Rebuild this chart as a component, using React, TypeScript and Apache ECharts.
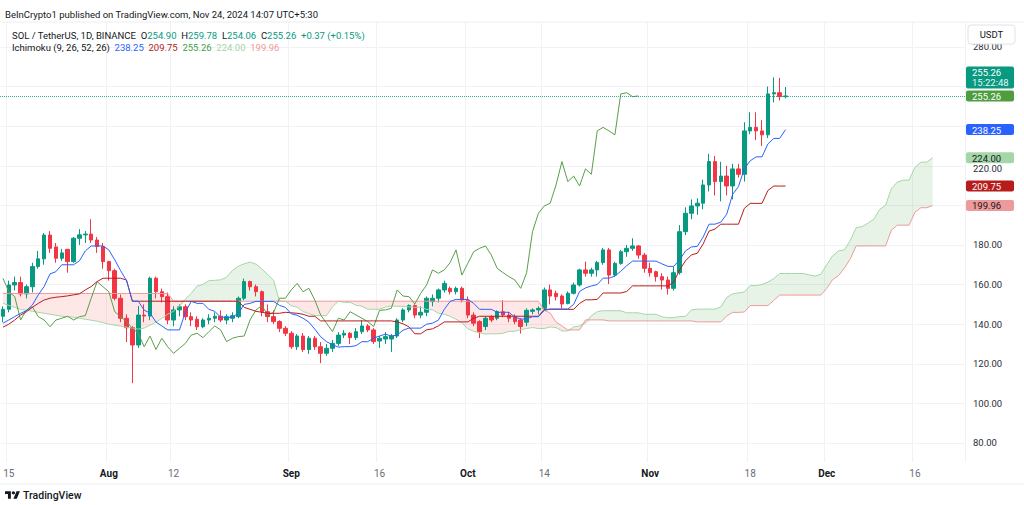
import React, { useEffect, useRef } from 'react';
import * as echarts from 'echarts';

const FONT = 'Roboto, "Liberation Sans", sans-serif';

// ---- categories (daily, Jul 14 2024 .. Dec 24 2024) ----
const FIRST_DAY = Date.UTC(2024, 6, 14);
const DAY_COUNT = 164;
const dates: string[] = [];
for (let i = 0; i < DAY_COUNT; i++) dates.push(new Date(FIRST_DAY + i * 86400000).toISOString().slice(0, 10));

const tickDates = ['2024-07-15', '2024-08-01', '2024-08-12', '2024-09-01', '2024-09-16', '2024-10-01', '2024-10-14', '2024-11-01', '2024-11-18', '2024-12-01', '2024-12-16'];
const tickLabels = ['15', 'Aug', '12', 'Sep', '16', 'Oct', '14', 'Nov', '18', 'Dec', '16'];
const priceTicks = [80, 100, 120, 140, 160, 180, 200, 220, 240, 260, 280];
// axis labels drawn by the axis; 200/240/260 sit behind price-scale markers, 220 is drawn just under its marker
const priceLabels = [80, 100, 120, 140, 160, 180, 280];
const partlyHiddenLabel = 220;

// ---- SOL/USDT daily candles, Jul 14 .. Nov 24 ----
const open = [
  144.0,
  147.5, 159.8, 161.0, 155.3, 158.9, 169.1, 173.0, 185.0, 179.0, 173.3,
  177.8, 171.6, 183.4, 185.1, 185.5, 182.5, 179.2,
  171.6, 167.0, 153.1, 143.0, 138.2, 129.5, 144.6, 144.1, 163.2, 156.4,
  153.9, 142.1, 147.2, 148.8, 143.8, 142.5, 138.7, 142.1, 143.0, 144.0,
  142.1, 143.0, 143.8, 153.1, 161.5, 158.9, 156.4, 146.3, 143.8, 141.3, 137.9,
  135.4, 128.6, 134.0, 127.2, 132.9, 128.6, 125.3, 127.8, 130.3, 134.5,
  135.4, 133.2, 136.2, 139.1, 137.1, 131.5, 132.5, 132.5, 134.0, 142.1,
  147.2, 149.4, 144.6, 146.0, 151.4, 153.1, 157.3, 158.1, 156.4, 158.1,
  152.2, 144.6, 141.3, 138.8, 143.8, 143.0, 146.3, 144.6, 143.8, 142.1,
  141.0, 146.5, 147.2, 148.0, 157.3, 155.6, 154.2, 150.5, 155.6, 159.8,
  167.4, 165.7, 167.4, 171.1, 177.5, 164.8, 170.7, 176.6, 178.3, 179.5, 174.9,
  168.2, 166.5, 164.0, 162.3, 158.1, 166.0, 186.7, 196.0, 199.7, 201.1,
  210.3, 222.1, 212.0, 214.8, 209.8, 218.4, 215.7, 237.6, 239.4, 237.6,
  235.6, 256.3, 256.9, 254.9,
];
const close = [
  147.5,
  159.8, 161.0, 155.3, 158.9, 169.1, 173.0, 185.0, 178.3, 173.3, 176.0,
  171.6, 183.4, 185.1, 185.5, 182.5, 179.2, 171.6,
  167.0, 153.1, 143.0, 138.2, 129.5, 144.6, 144.1, 163.2, 156.4, 153.9,
  142.1, 147.2, 148.8, 143.8, 142.1, 138.7, 142.1, 143.0, 144.0, 142.1,
  143.8, 144.3, 153.1, 161.5, 158.9, 156.4, 146.3, 143.8, 141.3, 137.9, 135.4,
  128.6, 134.0, 127.2, 132.9, 128.6, 125.3, 127.8, 130.3, 134.5, 135.4,
  133.2, 136.2, 139.1, 137.1, 131.2, 132.9, 133.7, 134.0, 142.1, 147.2,
  149.4, 144.6, 146.0, 153.1, 153.1, 157.3, 160.6, 156.4, 158.1, 152.2,
  144.6, 140.5, 136.2, 143.0, 142.1, 146.3, 144.6, 143.0, 141.3, 138.8,
  147.0, 147.2, 148.0, 157.3, 154.2, 153.9, 150.2, 155.6, 159.8, 167.4,
  165.7, 167.4, 171.1, 177.5, 164.8, 170.7, 176.6, 178.3, 179.5, 174.9, 168.2,
  166.0, 164.0, 162.3, 158.1, 166.0, 186.7, 196.0, 199.7, 201.1, 210.3,
  222.1, 212.0, 214.8, 209.8, 218.4, 215.7, 237.6, 239.4, 237.6, 235.6,
  256.3, 256.9, 254.9, 255.26,
];
const high = [
  149,
  162, 164, 164, 160, 171, 177, 186, 187, 181, 178,
  178, 184, 188, 187, 193, 184, 181,
  172, 168, 155, 145, 139, 149.2, 150, 164, 164, 158,
  156, 149, 150, 150, 146, 144, 143, 145, 146, 147,
  145, 146, 154, 163, 162, 160, 157, 150, 147, 142, 139,
  136.5, 135, 135.5, 134, 134, 131, 130, 132, 136, 137,
  136, 138, 142, 140, 138, 134, 136, 135, 143, 148,
  150, 150, 149, 154, 155, 158, 162, 159, 159, 159,
  154, 146, 142, 144, 144.5, 147, 152.2, 146, 145, 143,
  148, 148, 149, 158.5, 160, 157, 155, 156.5, 161, 168,
  171.6, 168.5, 172, 178.5, 178.5, 171.5, 177.5, 180, 183.4, 180, 176,
  171, 167, 165.7, 164, 169, 190, 199, 203, 203.6, 213,
  226, 225, 222, 220, 221, 221, 242, 247, 247, 243,
  260, 264.6, 264.4, 259.78,
];
const low = [
  141,
  146, 157, 154, 153, 156, 168, 170, 176, 171, 172,
  166, 171, 180, 181, 181, 176, 168,
  162, 152, 141, 131, 110.2, 128, 141, 142, 153, 151,
  140, 139, 144, 142, 139, 137, 138, 140, 141, 141,
  140, 141, 143, 152, 157, 154, 144, 141, 140, 136, 134,
  127.5, 127, 126, 125, 127, 120.3, 124, 126, 129, 133,
  130, 132, 135, 136, 130, 128, 130, 126, 133, 141,
  146, 143, 143, 144, 149, 151, 156, 155, 155, 151,
  143, 139, 133, 137, 141, 142, 143.5, 141, 140, 135.3,
  139, 145, 145, 147, 150, 152, 148, 150, 155, 159,
  164, 164, 164, 170, 160.3, 164, 170, 174, 177, 173, 166,
  164, 161.5, 157.5, 155, 157, 165, 185, 193, 195.2, 198,
  207, 205, 202, 205, 203, 214, 212, 236, 233, 230,
  234, 252, 253, 254.06,
];

// ---- Ichimoku (9, 26, 52, 26) lines ----
const conversionLine = [
  140.5, 142.1, 143.8, 145.5, 146.8, 149.7, 154.8, 159.0, 165.4, 166.5,
  170, 170, 170, 172, 177, 179.5, 179.5, 179.5, 177.5, 172.5,
  167, 162, 151.6, 151.6, 147.1, 145.6, 141.1, 139.1, 137.1, 137.1,
  137.1, 146, 151.5, 150.5, 150.5, 147.5, 146.5, 143.5, 143.5, 143.5,
  145.5, 150, 150.5, 151.5, 151.5, 151.5, 151.5, 149.5, 148.5, 145.25,
  144.5, 143, 141, 137.5, 133.65, 131.15, 129.65, 128.4, 128.65, 128.65,
  129.15, 131.15, 131.15, 133, 134, 135, 134, 134.5, 137, 138,
  138, 138, 140, 140.5, 142, 147.5, 151.5, 152.5, 152.5, 152.5,
  150.5, 147.5, 147.5, 147.5, 146, 146, 146, 143.5, 142.6, 142.6,
  143.75, 143.75, 146.9, 147.65, 147.65, 147.65, 147.65, 150, 156.5, 158.3,
  159.3, 160, 163.25, 163.25, 164.25, 166.75, 169.5, 171.85, 171.85, 171.85,
  171.85, 171.85, 170.45, 169.2, 169.2, 172.5, 177, 179, 179.3, 184,
  190.5, 190.5, 191.5, 195.5, 205.5, 209.5, 218.6, 222.5, 224.5, 224.5,
  231, 233.8, 233.8, 238.25,
];
const baseLine = [
  138.5, 140.0, 142.1, 144.6, 146.3, 148.5, 150.5, 152.2, 153.1, 153.6,
  153.9, 154.3, 154.8, 155.3, 157.3, 159.0, 161.5, 163.2, 163.2, 163.2,
  163.2, 162.3, 151.6, 151.6, 151.6, 151.6, 151.6, 151.6, 151.6, 151.6,
  151.6, 151.6, 151.6, 151.6, 151.6, 151.6, 151.6, 151.6, 151.6, 151.6,
  151.6, 148.5, 147.5, 146.5, 146.0, 145.5, 145.5, 145.5, 146.0, 145.75,
  145.5, 145.0, 144.0, 144.0, 141.65, 141.65, 141.65, 141.65, 141.65, 141.65,
  141.65, 141.65, 141.65, 141.65, 141.65, 141.65, 141.65, 141.15, 140.15, 138.65,
  135.15, 135.15, 137.15, 137.65, 139.15, 141.15, 141.15, 141.15, 141.15, 141.15,
  143, 144, 144, 144, 144, 144, 144, 144, 144, 144,
  144, 144, 147.5, 147.5, 147.5, 147.5, 147.5, 147.5, 150.5, 152.3,
  152.3, 152.5, 155.75, 155.75, 155.75, 155.75, 156.5, 159.35, 159.35, 159.35,
  159.35, 159.35, 159.35, 159.35, 161.2, 167.5, 172, 175, 175.8, 180.5,
  187, 188, 190.5, 190.5, 190.5, 190.5, 198.5, 201, 201, 201,
  207.5, 209.75, 209.75, 209.75,
];
const leadingSpanA = [
  150.5, 149.5, 148.5, 147.5, 147.0, 146.5, 146.0, 145.5, 145.0, 144.5,
  144.0, 143.8, 143.5, 143.0, 142.5, 142.0, 141.5, 140.8, 140.0, 139.5,
  139.0, 138.5, 138.0, 137.5, 138.0, 139.5, 141.05, 142.95, 145.05, 146.55,
  149.1, 152.65, 155.6, 159.25, 160.05, 161.95, 162.15, 162.4, 163.65, 167.15,
  169.25, 170.5, 171.35, 170.35, 167.85, 165.1, 162.15, 151.6, 151.6, 149.35,
  148.6, 146.35, 145.35, 144.35, 144.35, 144.35, 148.8, 151.55, 151.05, 151.05,
  149.55, 149.05, 147.55, 147.55, 147.55, 148.55, 149.25, 149.0, 149.0, 148.75,
  148.5, 148.5, 147.5, 147.25, 145.5, 145.0, 144.0, 142.5, 140.75, 137.65,
  136.4, 135.65, 135.0, 135.15, 135.15, 135.4, 136.4, 136.4, 137.3, 137.8,
  138.3, 137.8, 137.8, 138.6, 138.3, 136.6, 136.6, 138.6, 139.1, 140.6,
  144.3, 146.3, 146.8, 146.8, 146.8, 146.75, 145.75, 145.75, 145.75, 145.0,
  145.0, 145.0, 143.75, 143.3, 143.3, 143.9, 143.9, 147.2, 147.6, 147.6,
  147.6, 147.6, 148.75, 153.5, 155.3, 155.8, 156.25, 159.5, 159.5, 160.0,
  161.25, 163.0, 165.6, 165.6, 165.6, 165.6, 165.6, 164.9, 164.3, 165.2,
  170.0, 174.5, 177.0, 177.55, 182.25, 188.75, 189.25, 191.0, 193.0, 198.0,
  200.0, 208.55, 211.75, 212.75, 212.75, 219.25, 221.8, 221.8, 224.0,
];
const leadingSpanB = [
  155.5, 155.5, 155.5, 155.5, 155.5, 155.5, 155.5, 155.5, 155.5, 155.5,
  155.5, 155.5, 155.5, 155.5, 155.5, 155.5, 155.5, 155.5, 155.5, 155.5,
  155.5, 155.5, 155.5, 155.5, 155.5, 155.5, 155.5, 155.5, 155.5,
  151.6, 151.6, 151.6, 151.6, 151.6, 151.6, 151.6, 151.6, 151.6, 151.6,
  151.6, 151.6, 151.6, 151.6, 151.6, 151.6, 151.6, 151.6, 151.6, 151.6,
  151.6, 151.6, 151.6, 151.6, 151.6, 151.6, 151.6, 151.6, 151.6, 151.6,
  151.6, 151.6, 151.6, 151.6, 151.6, 151.6, 151.6, 151.6, 151.6, 151.6,
  151.6, 151.6, 151.6, 151.6, 151.6, 151.6, 151.6, 151.6, 151.6, 151.6,
  151.6, 151.6, 151.6, 151.6, 151.6, 151.6, 151.6, 151.6, 151.6, 151.6,
  151.6, 151.6, 151.6,
  147.1, 145.6, 141.1, 139.1, 137.1, 137.1, 137.1, 142.15, 142.15, 142.15, 142.15,
  141.65, 141.65, 141.65, 141.65, 141.65, 141.65, 141.65, 141.65, 141.65, 141.65,
  141.65, 141.65, 141.65, 141.65, 141.65,
  141.15, 141.15, 141.15, 141.15, 141.15,
  144.15, 145.95, 145.95, 146.15, 149.4, 149.4, 149.4, 149.4, 152.0,
  154.7, 154.7, 154.7, 154.7, 154.7, 154.7, 154.7, 154.7,
  158.0, 162.5, 164.5, 168.3, 173.0,
  179.5, 179.5, 179.5, 179.5, 179.5, 179.5,
  187.5, 190.0, 190.0, 190.0, 196.5, 198.8, 198.8, 199.96,
];
const LAG = 25; // lagging span plotted 25 bars back (displacement 26)
const laggingSpan = close.slice(LAG);

const UP = '#089981';
const DOWN = '#f23645';
const C_CONV = '#2962ff';
const C_BASE = '#b71c1c';
const C_LAG = '#5a9e4b';
const C_SA = '#a5d6a7';
const C_SB = '#ef9a9a';
const FS = 9.5;

const TV_LOGO = 'M14 22H7V11H0V4h14v18Z M28 22h-8l7.5-18h8L28 22Z M20 4a4 4 0 1 1 0 8a4 4 0 1 1 0-8Z';
let logoRegistered = false;

export default function App() {
  const ref = useRef<HTMLDivElement>(null);
  useEffect(() => {
    if (!ref.current) return;
    if (!logoRegistered) {
      echarts.graphic.registerShape('tvlogo', echarts.graphic.extendPath(TV_LOGO, {}) as any);
      logoRegistered = true;
    }
    const chart = echarts.init(ref.current, null, { renderer: 'svg' });
    const r2 = (v: number) => Math.round(v * 100) / 100;
    const cloudBase = leadingSpanA.map((a, i) => r2(Math.min(a, leadingSpanB[i])));
    const cloudUp = leadingSpanA.map((a, i) => r2(Math.max(a - leadingSpanB[i], 0)));
    const cloudDown = leadingSpanA.map((a, i) => r2(Math.max(leadingSpanB[i] - a, 0)));
    const candles = open.map((o, i) => [o, close[i], low[i], high[i]]);
    const isTick = (_: number, v: string) => tickDates.indexOf(v) >= 0;
    const lineSeries = (name: string, data: number[], color: string) => ({
      name, type: 'line', data, symbol: 'none', showSymbol: false, silent: true,
      lineStyle: { color, width: 1 }, z: 3,
    });

    chart.setOption({
      animation: false,
      backgroundColor: '#ffffff',
      textStyle: { fontFamily: FONT },
      grid: { left: 0, right: 59, top: 22, bottom: 43 },
      xAxis: {
        type: 'category', data: dates, boundaryGap: true,
        axisLine: { show: false }, axisTick: { show: false },
        axisLabel: {
          interval: isTick, margin: 6, fontSize: 10,
          formatter: (v: string) => {
            const t = tickLabels[tickDates.indexOf(v)];
            return /^\d+$/.test(t) ? `{d|${t}}` : `{m|${t}}`;
          },
          rich: {
            m: { color: '#131722', fontWeight: 'bold', fontSize: 10, fontFamily: FONT },
            d: { color: '#6a6d78', fontSize: 10, fontFamily: FONT },
          },
        },
        splitLine: { show: true, interval: isTick, lineStyle: { color: '#f0f2f6', width: 1 } },
      },
      yAxis: {
        type: 'value', position: 'right', min: 70.4, max: 292.6,
        axisLine: { show: false },
        axisTick: { show: false, customValues: priceTicks },
        axisLabel: { customValues: priceLabels, formatter: (v: number) => v.toFixed(2), color: '#2a2e39', fontSize: FS, margin: 8 },
        splitLine: { show: true, lineStyle: { color: '#f0f2f6', width: 1 } },
      },
      series: [
        { name: 'cloudBase', type: 'line', stack: 'cloud', data: cloudBase, symbol: 'none', silent: true, lineStyle: { opacity: 0 }, z: 1 },
        { name: 'cloudUp', type: 'line', stack: 'cloud', data: cloudUp, symbol: 'none', silent: true, lineStyle: { opacity: 0 }, areaStyle: { color: 'rgba(67,160,71,0.13)', opacity: 1 }, z: 1 },
        { name: 'cloudDown', type: 'line', stack: 'cloud', data: cloudDown, symbol: 'none', silent: true, lineStyle: { opacity: 0 }, areaStyle: { color: 'rgba(244,67,54,0.12)', opacity: 1 }, z: 1 },
        {
          name: 'SOLUSDT', type: 'candlestick', data: candles, barWidth: 4, z: 2,
          itemStyle: { color: UP, color0: DOWN, borderColor: UP, borderColor0: DOWN, borderWidth: 1 },
          markLine: {
            silent: true, symbol: ['none', 'none'], label: { show: false },
            lineStyle: { color: UP, type: 'dotted', width: 1, opacity: 0.8 },
            data: [{ yAxis: close[close.length - 1] }],
          },
        },
        lineSeries('Leading Span A', leadingSpanA, C_SA),
        lineSeries('Leading Span B', leadingSpanB, C_SB),
        lineSeries('Lagging Span', laggingSpan, C_LAG),
        lineSeries('Base Line', baseLine, C_BASE),
        lineSeries('Conversion Line', conversionLine, C_CONV),
      ],
    });

    const yPix = (v: number) => chart.convertToPixel({ yAxisIndex: 0 }, v) as number;
    const lastClose = close[close.length - 1];
    const boxes = [
      { v: conversionLine[conversionLine.length - 1], bg: C_CONV, fg: '#ffffff' },
      { v: leadingSpanA[leadingSpanA.length - 1], bg: C_SA, fg: '#131722' },
      { v: baseLine[baseLine.length - 1], bg: C_BASE, fg: '#ffffff' },
      { v: leadingSpanB[leadingSpanB.length - 1], bg: C_SB, fg: '#131722' },
      { v: lastClose, bg: '#4f9d3e', fg: '#ffffff' },
    ];
    const BX = 966, BW = 48, BH = 11;
    const elements: any[] = [];
    // 220.00 price label, sitting just below the Leading Span A marker
    elements.push({ type: 'text', z: 90, x: 973, y: yPix(partlyHiddenLabel) + 2.5, style: { text: partlyHiddenLabel.toFixed(2), fill: '#2a2e39', fontSize: FS, fontFamily: FONT, verticalAlign: 'middle', align: 'left' } });
    boxes.forEach((b) => {
      const yc = yPix(b.v);
      elements.push({ type: 'rect', z: 100, shape: { x: BX, y: yc - BH / 2, width: BW, height: BH, r: 2 }, style: { fill: b.bg } });
      elements.push({ type: 'text', z: 101, x: BX + 6, y: yc + 0.5, style: { text: b.v.toFixed(2), fill: b.fg, fontSize: FS, fontFamily: FONT, verticalAlign: 'middle', align: 'left' } });
    });
    const pc = yPix(lastClose) - 18.5;
    elements.push({ type: 'rect', z: 100, shape: { x: BX, y: pc - 11, width: BW, height: 22, r: 2 }, style: { fill: UP } });
    elements.push({ type: 'text', z: 101, x: BX + 6, y: pc - 5, style: { text: lastClose.toFixed(2), fill: '#ffffff', fontSize: FS, fontFamily: FONT, verticalAlign: 'middle' } });
    elements.push({ type: 'text', z: 101, x: BX + 6, y: pc + 5.5, style: { text: '15:22:48', fill: '#e6f4f1', fontSize: FS, fontFamily: FONT, verticalAlign: 'middle' } });
    // USDT currency box
    elements.push({ type: 'rect', z: 100, shape: { x: 968, y: 25, width: 47, height: 19, r: 3 }, style: { fill: '#ffffff', stroke: '#dfe2e8', lineWidth: 1 } });
    elements.push({ type: 'text', z: 101, x: 991.5, y: 34.5, style: { text: 'USDT', fill: '#131722', fontSize: FS, fontFamily: FONT, align: 'center', verticalAlign: 'middle' } });
    // frame lines
    elements.push({ type: 'line', z: 50, shape: { x1: 0, y1: 22, x2: 1024, y2: 22 }, style: { stroke: '#eceef2', lineWidth: 1 } });
    elements.push({ type: 'line', z: 50, shape: { x1: 0, y1: 484, x2: 1024, y2: 484 }, style: { stroke: '#eceef2', lineWidth: 1 } });
    // header
    elements.push({ type: 'text', z: 101, x: 5, y: 14, style: { text: 'BeInCrypto1 published on TradingView.com, Nov 24, 2024 14:07 UTC+5:30', fill: '#131722', fontSize: FS, fontFamily: FONT, verticalAlign: 'middle' } });
    elements.push({
      type: 'text', z: 101, x: 12, y: 35,
      style: {
        text: '{k|SOL / TetherUS, 1D, BINANCE}  {k|O}{v|254.90}  {k|H}{v|259.78}  {k|L}{v|254.06}  {k|C}{v|255.26}  {v|+0.37 (+0.15%)}',
        verticalAlign: 'middle', fontSize: FS, fontFamily: FONT,
        rich: { k: { fill: '#131722', fontSize: FS, fontFamily: FONT }, v: { fill: UP, fontSize: FS, fontFamily: FONT } },
      },
    });
    elements.push({
      type: 'text', z: 101, x: 12, y: 47.5,
      style: {
        text: '{k|Ichimoku (9, 26, 52, 26)}  {b|238.25}  {r|209.75}  {g|255.26}  {a|224.00}  {s|199.96}',
        verticalAlign: 'middle', fontSize: FS, fontFamily: FONT,
        rich: {
          k: { fill: '#131722', fontSize: FS, fontFamily: FONT },
          b: { fill: C_CONV, fontSize: FS, fontFamily: FONT },
          r: { fill: C_BASE, fontSize: FS, fontFamily: FONT },
          g: { fill: '#43a047', fontSize: FS, fontFamily: FONT },
          a: { fill: C_SA, fontSize: FS, fontFamily: FONT },
          s: { fill: C_SB, fontSize: FS, fontFamily: FONT },
        },
      },
    });
    // TradingView logo
    elements.push({ type: 'tvlogo', z: 101, x: 5, y: 489.5, scaleX: 0.42, scaleY: 0.42, style: { fill: '#131722' } });
    elements.push({ type: 'text', z: 101, x: 23, y: 495.5, style: { text: 'TradingView', fill: '#131722', fontSize: 10.5, fontWeight: 500, fontFamily: FONT, verticalAlign: 'middle' } });

    chart.setOption({ graphic: { elements } });
    return () => chart.dispose();
  }, []);
  return <div ref={ref} style={{ position: 'fixed', left: 0, top: 0, width: 1024, height: 505, background: '#ffffff' }} />;
}
